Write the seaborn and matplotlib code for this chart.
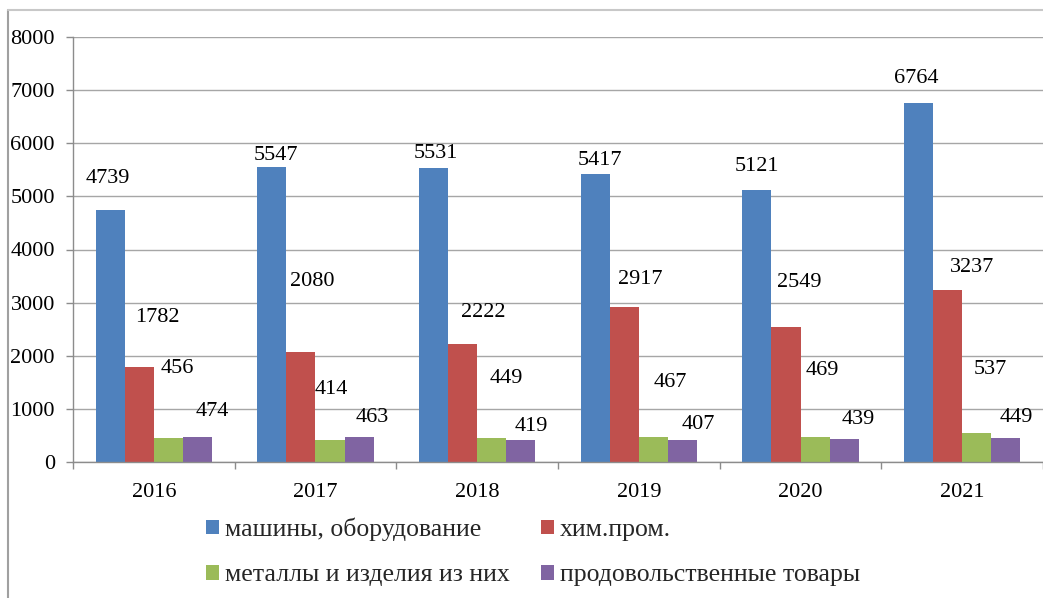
import matplotlib
matplotlib.use("Agg")
import matplotlib.pyplot as plt
import seaborn as sns
import pandas as pd
import numpy as np
from matplotlib.patches import Rectangle
from matplotlib.lines import Line2D

years = ["2016", "2017", "2018", "2019", "2020", "2021"]
series_names = ["машины, оборудование", "хим.пром.",
                "металлы и изделия из них", "продовольственные товары"]
machines = [4739, 5547, 5531, 5417, 5121, 6764]
chem = [1782, 2080, 2222, 2917, 2549, 3237]
metals = [456, 414, 449, 467, 469, 537]
food = [474, 463, 419, 407, 439, 449]
y_ticks = [0, 1000, 2000, 3000, 4000, 5000, 6000, 7000, 8000]

colors = ["#4F81BD", "#C0504D", "#9BBB59", "#8064A2"]

# label offsets (pixels) relative to bar top-center, as placed in the original
label_dx = [[-2, 4, 2, 5, 0, -2],
            [18, 11, 21, 16, 13, 24],
            [9, 1, 15, 17, 7, 14],
            [15, 13, 10, 16, 14, 10]]
label_dy = [[32, 12, 15, 14, 23, 24],
            [50, 70, 31, 28, 44, 23],
            [69, 51, 60, 55, 67, 64],
            [25, 20, 13, 16, 19, 21]]

rows = []
for name, vals in zip(series_names, [machines, chem, metals, food]):
    for yr, v in zip(years, vals):
        rows.append({"year": yr, "series": name, "value": v})
df = pd.DataFrame(rows)

sns.set_theme(style="white")
plt.rcParams["font.family"] = ["Liberation Serif", "DejaVu Serif"]

fig = plt.figure(figsize=(10.43, 5.98), dpi=100)
ax = fig.add_axes([73 / 1043, 1 - 462 / 598, (1043 - 73) / 1043, (462 - 37) / 598])

sns.barplot(data=df, x="year", y="value", hue="series", order=years,
            hue_order=series_names, palette=colors, width=0.72, gap=0,
            saturation=1, edgecolor="none", linewidth=0, ax=ax, legend=False,
            errorbar=None)

ax.set_ylim(0, 8000)
ax.set_xlim(-0.5, 5.5)
ax.set_yticks(y_ticks)
ax.set_yticklabels([str(t) for t in y_ticks], fontsize=16)
ax.set_xlabel("")
ax.set_ylabel("")
ax.yaxis.grid(True, color="#A6A6A6", linewidth=1.0)
ax.set_axisbelow(True)
for side in ["top", "right"]:
    ax.spines[side].set_visible(False)
for side in ["left", "bottom"]:
    ax.spines[side].set_color("#8C8C8C")
    ax.spines[side].set_linewidth(1.0)

ax.tick_params(axis="y", which="major", length=5, width=1, color="#8C8C8C",
               direction="out", pad=8, labelcolor="black", left=True)
ax.set_xticks(range(len(years)))
ax.set_xticklabels(years, fontsize=16)
ax.tick_params(axis="x", which="major", length=0, pad=15, labelcolor="black")
ax.set_xticks(np.arange(-0.5, 6.0, 1.0), minor=True)
ax.tick_params(axis="x", which="minor", length=5, width=1, color="#8C8C8C",
               direction="out", bottom=True)

for si, cont in enumerate(ax.containers):
    for yi, bar in enumerate(cont.patches):
        x = bar.get_x() + bar.get_width() / 2
        h = bar.get_height()
        ax.annotate(f"{int(round(h))}", xy=(x, h),
                    xytext=(label_dx[si][yi], label_dy[si][yi]),
                    textcoords="offset pixels", ha="center", va="center",
                    fontsize=16, color="black", annotation_clip=False)

handles = [Rectangle((0, 0), 1, 1, facecolor=c, edgecolor="none") for c in colors]
order = [0, 2, 1, 3]
leg = fig.legend([handles[i] for i in order], [series_names[i] for i in order],
                 ncol=2, loc="center left", bbox_to_anchor=(206 / 1043, 1 - 552 / 598),
                 frameon=False, fontsize=18.5, handlelength=0.5, handleheight=0.5,
                 handletextpad=0.25, columnspacing=1.2, labelspacing=0.9,
                 borderpad=0, borderaxespad=0)

# outer chart frame (left and top edges visible)
fig.add_artist(Line2D([8 / 1043, 8 / 1043], [0, 1 - 10 / 598], transform=fig.transFigure,
                      color="#A0A0A0", linewidth=1.5))
fig.add_artist(Line2D([8 / 1043, 1], [1 - 10 / 598, 1 - 10 / 598], transform=fig.transFigure,
                      color="#C8C8C8", linewidth=1.5))

fig.savefig("out.png", dpi=100)
